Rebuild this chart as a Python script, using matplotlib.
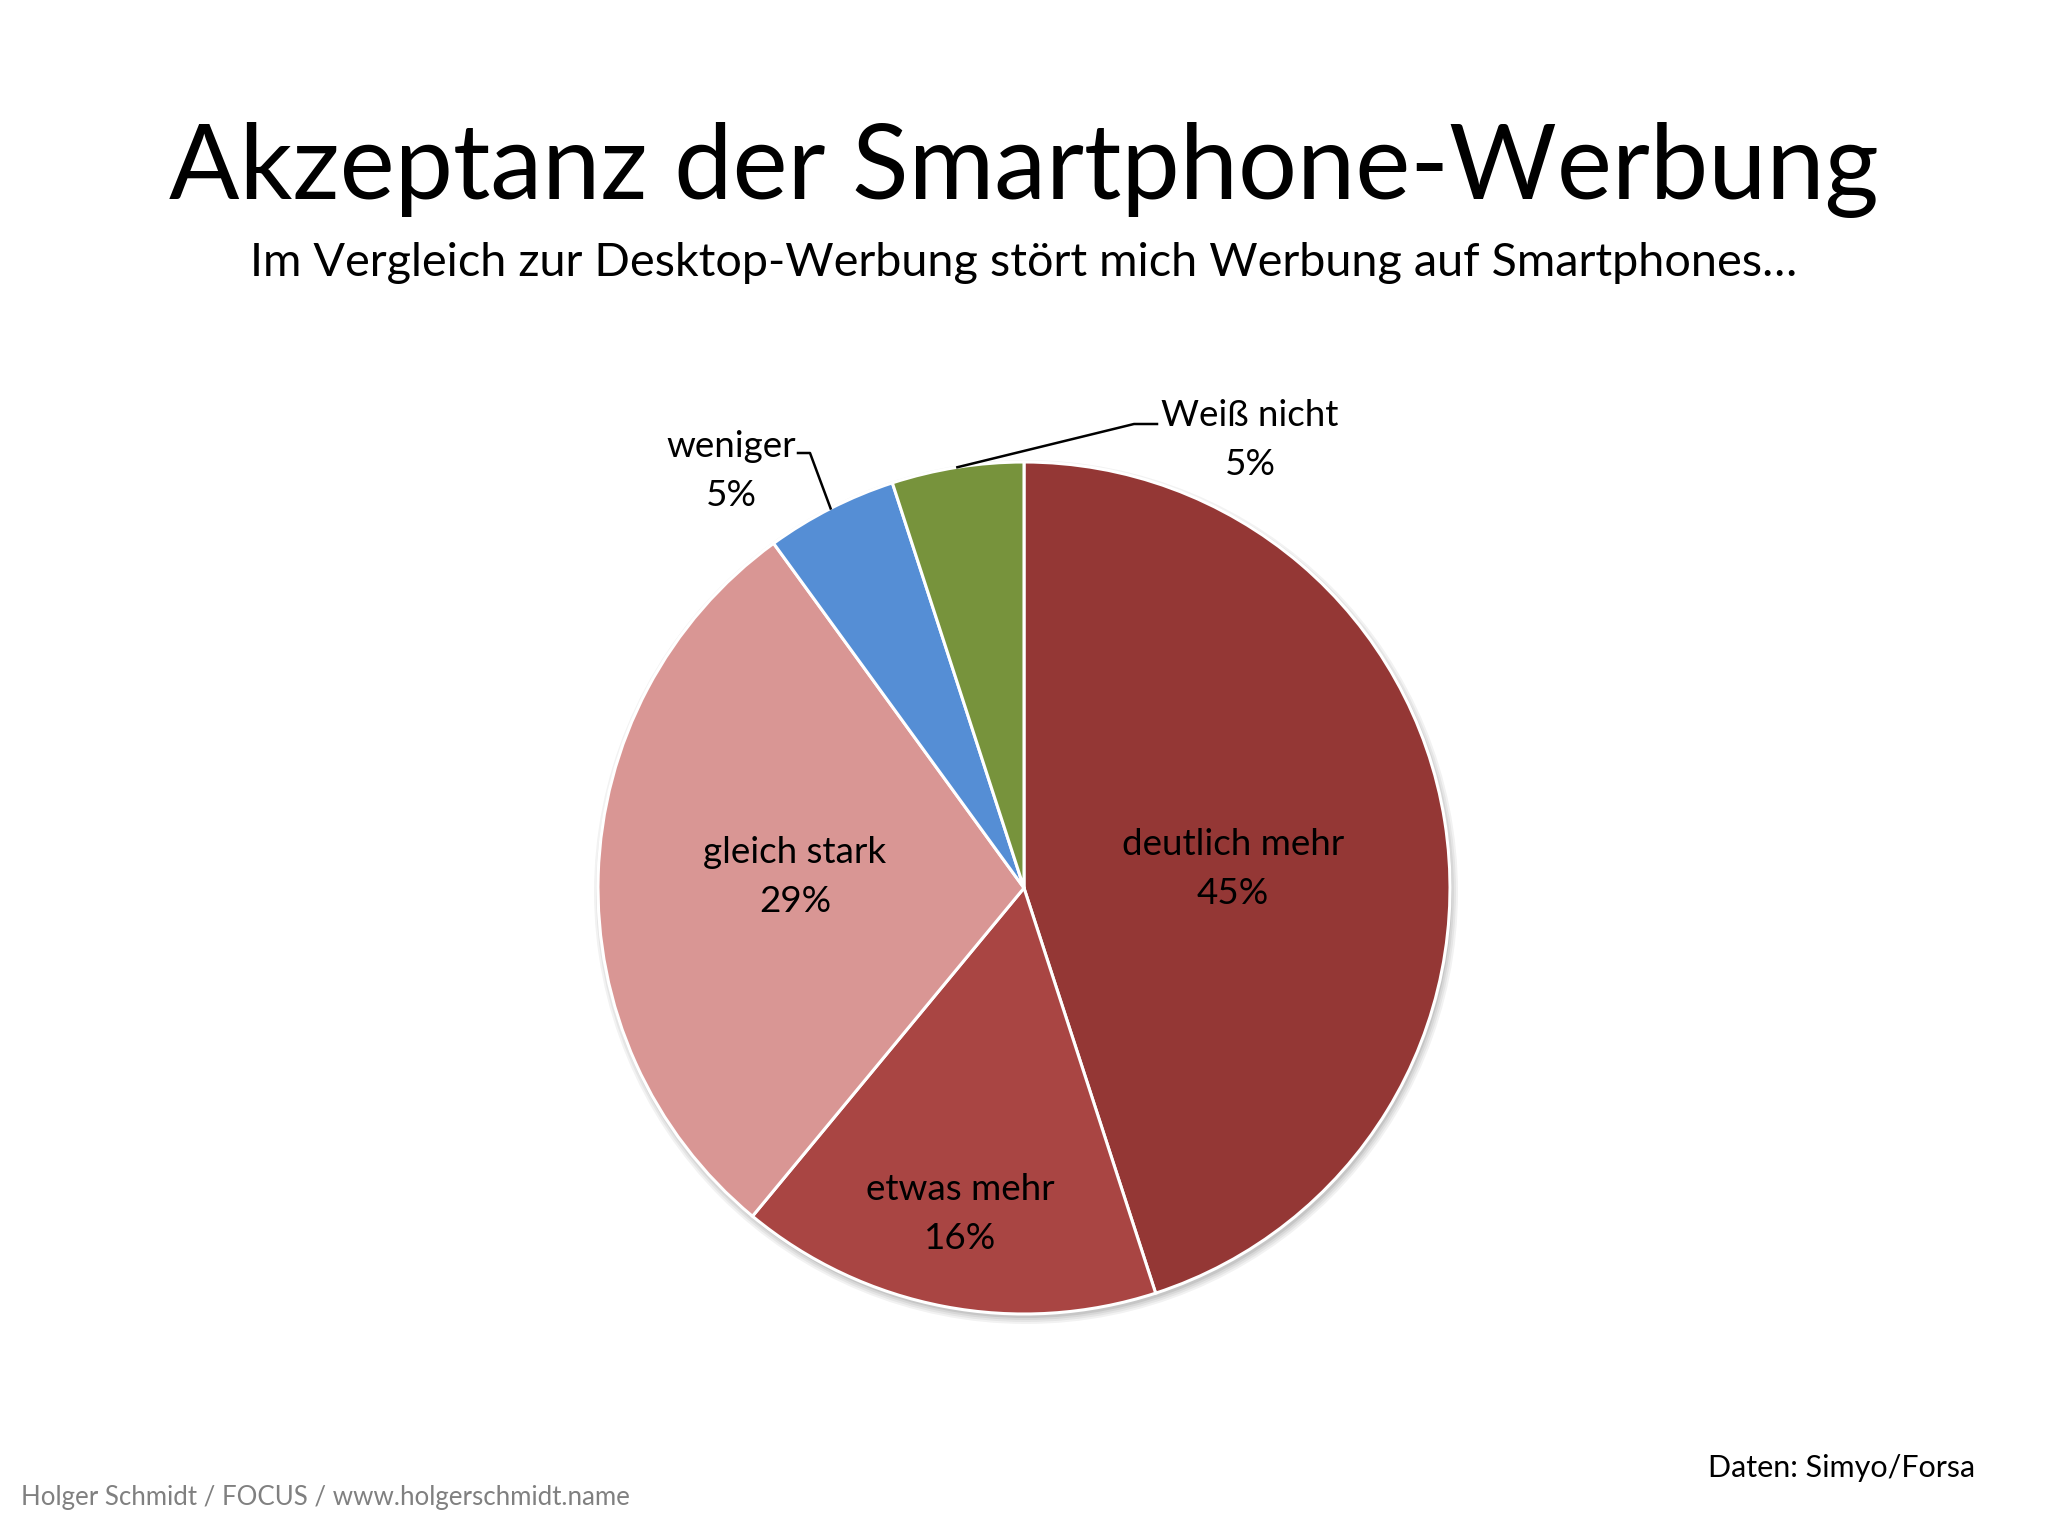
import numpy as np
import matplotlib
matplotlib.use("Agg")
import matplotlib.pyplot as plt
from matplotlib.patches import Circle

# ---- data ----
categories = ["deutlich mehr", "etwas mehr", "gleich stark", "weniger", "Weiß nicht"]
values = [45, 16, 29, 5, 5]
colors = ["#943735", "#a94543", "#d99694", "#558ed5", "#77933c"]

title = "Akzeptanz der Smartphone-Werbung"
subtitle = "Im Vergleich zur Desktop-Werbung stört mich Werbung auf Smartphones…"
source = "Daten: Simyo/Forsa"
credit = "Holger Schmidt / FOCUS / www.holgerschmidt.name"

plt.rcParams['font.family'] = ['Lato', 'DejaVu Sans']

W, H = 2048, 1536
fig = plt.figure(figsize=(W / 100, H / 100), dpi=100)
ax = fig.add_axes([0, 0, 1, 1])

cx, cy, R = 1024, H - 888, 426

# soft shadow
for i, a in enumerate([0.05, 0.05, 0.06, 0.08]):
    ax.add_patch(Circle((cx + 2, cy - 4), R + 6 - i * 2, color='black', alpha=a, lw=0, zorder=1))

wedges, _ = ax.pie(values, colors=colors, startangle=90, counterclock=False,
                   center=(cx, cy), radius=R, frame=True,
                   wedgeprops=dict(edgecolor='white', linewidth=2.2, zorder=2))
ax.set_xlim(0, W)
ax.set_ylim(0, H)
ax.set_aspect('equal')
ax.axis('off')

fs_lab = 26.5
ls_lab = 1.62
# label centres (pixels from top-left) — layout only
label_pos = [(1233, 869), (960, 1214), (795, 877), (731, 471), (1250, 440)]
for i, (lx, ly) in enumerate(label_pos):
    ax.text(lx, H - ly, f"{categories[i]}\n{values[i]}%", ha='center', va='center',
            fontsize=fs_lab, color='black', linespacing=ls_lab, zorder=5)

def edge_point(i):
    w = wedges[i]
    ang = np.deg2rad((w.theta1 + w.theta2) / 2)
    return cx + R * np.cos(ang), cy + R * np.sin(ang)

# leader lines
ex, ey = edge_point(3)
ax.plot([798, 810, ex], [H - 453, H - 453, ey], color='black', lw=1.8, zorder=6)
ex, ey = edge_point(4)
ax.plot([ex, 1134, 1157], [ey, H - 424, H - 424], color='black', lw=1.8, zorder=6)

# titles
fig.text(0.5, 1 - 199 / H, title, ha='center', va='baseline', fontsize=75, color='black')
fig.text(0.5, 1 - 276 / H, subtitle, ha='center', va='baseline', fontsize=33.7, color='black')

fig.text(1975 / W, 1 - 1468 / H, source, ha='right', va='center', fontsize=22, color='black')
fig.text(21 / W, 1 - 1498 / H, credit, ha='left', va='center', fontsize=18.6, color='#808080')

fig.savefig("out.png", dpi=100, facecolor='white')
